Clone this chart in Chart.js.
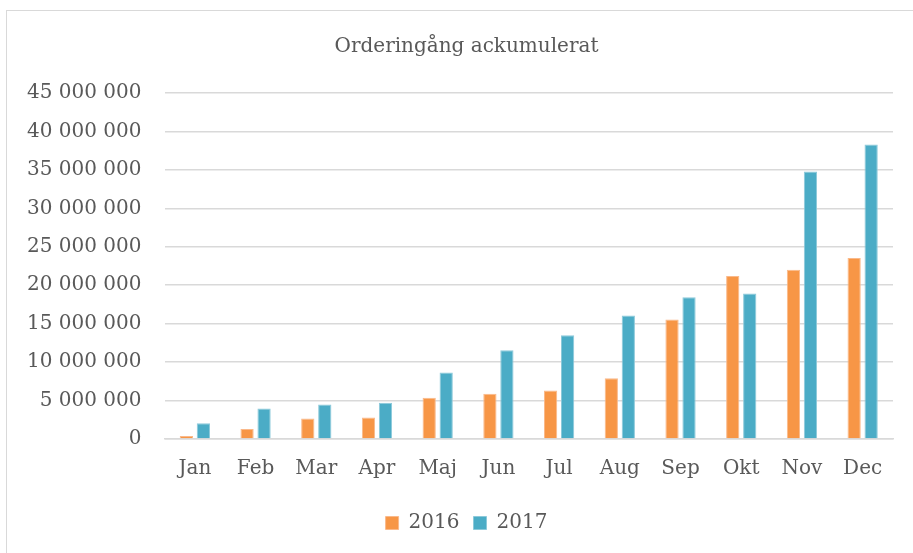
<!DOCTYPE html>
<html>
<head>
<meta charset="utf-8">
<script src="https://cdn.jsdelivr.net/npm/chart.js@4"></script>
<style>
  html, body { margin: 0; padding: 0; background: #fff; overflow: hidden; }
  #frame { position: absolute; left: 6px; top: 10px; width: 940px; height: 580px; border: 1.5px solid #d9d9d9; }
  #wrap { position: absolute; left: 0; top: 0; width: 913px; height: 553px; }
</style>
</head>
<body>
<div id="frame"></div>
<div id="wrap"><canvas id="myChart" width="913" height="553"></canvas></div>
<script>
const months = ['Jan', 'Feb', 'Mar', 'Apr', 'Maj', 'Jun', 'Jul', 'Aug', 'Sep', 'Okt', 'Nov', 'Dec']
const orders2016 = [400000, 1300000, 2650000, 2800000, 5350000, 5900000, 6300000, 7900000, 15550000, 21200000, 22000000, 23550000]
const orders2017 = [2050000, 3970000, 4500000, 4720000, 8650000, 11550000, 13500000, 16050000, 18450000, 18920000, 34800000, 38300000]
const yMax = 45000000
const yStep = 5000000

const textColor = '#595959'
const font = 'DejaVu Serif'

const ctx = document.getElementById('myChart').getContext('2d')

function spaced(value) {
  return value.toString().replace(/\B(?=(\d{3})+(?!\d))/g, ' ')
}

// the title and legend sit a bit right of the canvas centre in the original
const shiftBlocks = {
  id: 'shiftBlocks',
  afterLayout(chart) {
    const dx = 18
    for (const box of [chart.titleBlock, chart.legend]) {
      if (!box) continue
      box.left += dx
      box.right += dx
    }
  }
}

const myChart = new Chart(ctx, {
  type: 'bar',
  data: {
    labels: months,
    datasets: [{
      label: '2016',
      data: orders2016,
      backgroundColor: '#f79646',
      borderColor: '#fab98a',
      borderWidth: 1
    }, {
      label: '2017',
      data: orders2017,
      backgroundColor: '#4bacc6',
      borderColor: '#8cc9da',
      borderWidth: 1
    }]
  },
  options: {
    responsive: false,
    animation: false,
    categoryPercentage: 0.56,
    barPercentage: 0.78,
    layout: {
      padding: { left: 4, right: 20, top: 11, bottom: 10 }
    },
    scales: {
      x: {
        grid: { display: false, drawTicks: false },
        border: { color: '#d9d9d9', width: 1.5 },
        ticks: { color: textColor, font: { family: font, size: 20 }, padding: 18 }
      },
      y: {
        min: 0,
        max: yMax,
        grid: { color: '#d9d9d9', lineWidth: 1.5, drawTicks: false },
        border: { display: false },
        ticks: {
          stepSize: yStep,
          color: textColor,
          padding: 23,
          font: { family: font, size: 20 },
          callback: function(value) { return spaced(value) }
        }
      }
    },
    plugins: {
      title: {
        display: true,
        text: 'Orderingång ackumulerat',
        color: textColor,
        font: { family: font, size: 20, weight: 'normal' },
        padding: { top: 24, bottom: 34 }
      },
      legend: {
        position: 'bottom',
        labels: {
          color: textColor,
          boxWidth: 13,
          boxHeight: 13,
          padding: 14,
          font: { family: font, size: 20 }
        }
      },
      tooltip: { enabled: false }
    }
  },
  plugins: [shiftBlocks]
})
</script>
</body>
</html>
